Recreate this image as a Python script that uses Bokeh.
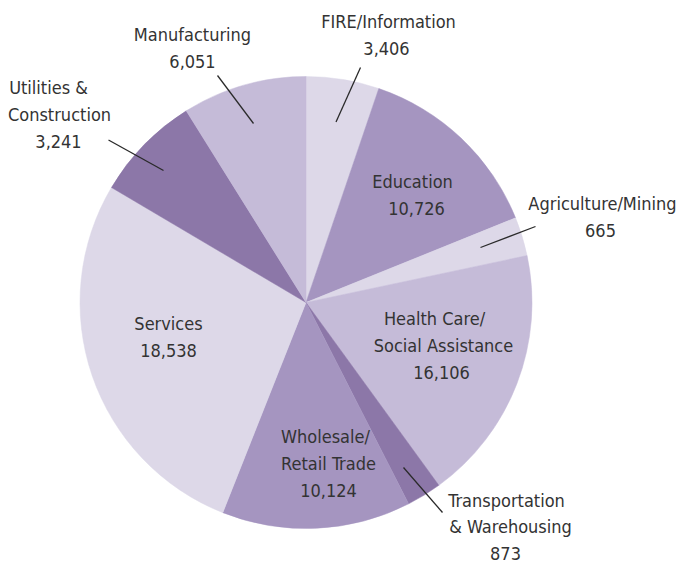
import numpy as np
from bokeh.plotting import figure
from bokeh.models import ColumnDataSource, Range1d
from bokeh.core.properties import value
from bokeh.embed import file_html
from bokeh.resources import INLINE

# ---- data ----
sectors = ["FIRE/Information", "Education", "Agriculture/Mining",
           "Health Care/Social Assistance", "Transportation & Warehousing",
           "Wholesale/Retail Trade", "Services", "Utilities & Construction",
           "Manufacturing"]
employment = [3406, 10726, 665, 16106, 873, 10124, 18538, 3241, 6051]
# slice shares (percent of the circle) as drawn in the picture
slice_share_pct = [5.22, 13.67, 2.78, 18.33, 2.5, 13.5, 27.5, 7.61, 8.89]
label_lines = [["FIRE/Information"], ["Education"], ["Agriculture/Mining"],
               ["Health Care/", "Social Assistance"],
               ["Transportation", "& Warehousing"],
               ["Wholesale/", "Retail Trade"], ["Services"],
               ["Utilities &", "Construction"], ["Manufacturing"]]

# ---- styles / layout ----
LIGHT, MIDLIGHT, MED, DARK = "#ddd8e8", "#c5bbd8", "#a595c0", "#8c77a8"
colors = [LIGHT, MED, LIGHT, MIDLIGHT, DARK, MED, LIGHT, DARK, MIDLIGHT]
FONT = "DejaVu Sans Condensed"
CX, CY, R = 305.5, -302.0, 226.0
# per-line label centres (screen coords)
label_pos = [
    [(388, 20.5), (386, 47.5)],
    [(412, 181), (416, 208)],
    [(602, 203), (600, 230)],
    [(434, 318), (443, 345), (441, 372)],
    [(506, 500), (510, 526), (505, 553)],
    [(325, 436), (328, 463), (328, 490)],
    [(168, 323), (168, 350)],
    [(48, 87), (59, 114), (58, 141)],
    [(192, 34), (192, 61)],
]
leaders = {
    0: ((360, 67), (335.5, 121.5)),
    8: ((217, 75), (253, 123)),
    7: ((108, 139.5), (163, 170)),
    2: ((535, 226), (480, 247)),
    4: ((442, 512), (403, 467)),
}

shares = np.array(slice_share_pct, dtype=float)
cum = np.concatenate([[0], np.cumsum(shares)]) / shares.sum() * 2 * np.pi
start = np.pi / 2 - cum[:-1]
end = np.pi / 2 - cum[1:]

src = ColumnDataSource(dict(start=start, end=end, color=colors, sector=sectors,
                            emp=employment))

p = figure(width=678, height=567, output_backend="svg", toolbar_location=None,
           x_range=Range1d(0, 678), y_range=Range1d(-567, 0),
           min_border=0, outline_line_color=None)
p.axis.visible = False
p.grid.visible = False
p.background_fill_color = "white"

p.wedge(x=CX, y=CY, radius=R, start_angle="start", end_angle="end",
        direction="clock", fill_color="color", line_color="color",
        line_width=0.5, source=src)

# leader lines
for i, ((x0, y0), (x1, y1)) in leaders.items():
    p.line([x0, x1], [-y0, -y1], line_color="#2a2a2a", line_width=1.3)

tx, ty, tt = [], [], []
for i, lines in enumerate(label_lines):
    texts = lines + [f"{employment[i]:,}"]
    for t, (x, y) in zip(texts, label_pos[i]):
        tx.append(x)
        ty.append(-y)
        tt.append(t)

p.text(x=tx, y=ty, text=tt, text_align="center", text_baseline="middle",
       text_font=value(FONT), text_font_size="18px", text_color="#333333")

open("out.html", "w").write(file_html(p, INLINE))
